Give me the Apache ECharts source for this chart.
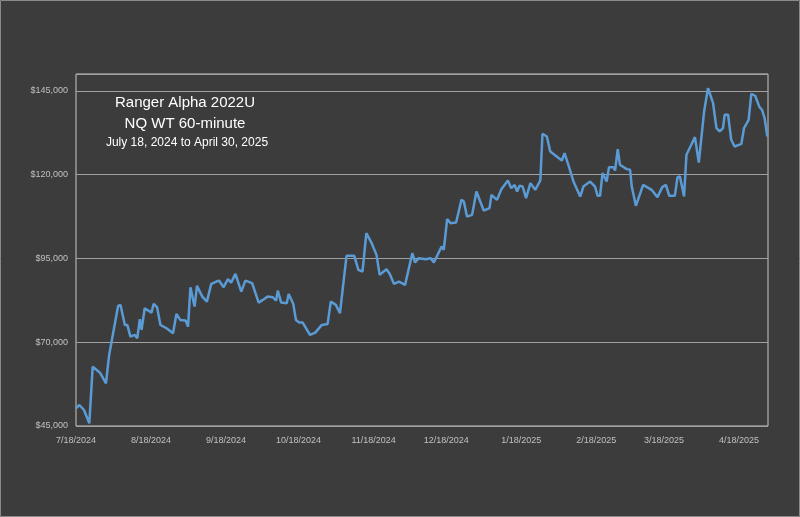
<!DOCTYPE html>
<html>
<head>
<meta charset="utf-8">
<script src="https://cdn.jsdelivr.net/npm/echarts@6/dist/echarts.min.js"></script>
<style>
  html, body { margin: 0; padding: 0; background: #3c3c3c; }
  #chart { width: 800px; height: 517px; }
</style>
</head>
<body>
<div id="chart"></div>
<script>
'use strict';

// days after 7/18/2024
var dayOffsets = [0, 1.4, 3.3, 5.5, 6.9, 9.9, 12.4, 13.7, 14.3, 17.4, 18.4, 20.2, 21.2, 22.5, 24.3, 25.3,
    26.4, 27.1, 28.4, 31.2, 32.1, 33.5, 34.9, 37.4, 40.1, 41.5, 43.1, 45.3, 46.3, 47.3, 49.0, 50.0,
    52.2, 54.1, 55.9, 58.0, 59.1, 61.0, 62.8, 64.1, 65.9, 68.3, 70.0, 72.8, 75.5, 77.2, 79.2, 81.3,
    82.7, 83.4, 84.8, 87.1, 87.9, 89.8, 90.9, 92.3, 93.7, 96.7, 98.9, 101.6, 104.0, 105.3, 107.4,
    109.1, 111.8, 115.0, 116.7, 118.4, 120.0, 122.2, 124.2, 125.5, 128.3, 129.7, 131.4, 133.5,
    136.0, 139.0, 140.1, 141.7, 144.5, 146.6, 147.9, 151.1, 152.0, 153.4, 154.8, 157.1, 159.3,
    160.3, 161.6, 163.7, 165.5, 168.5, 170.9, 171.7, 174.0, 175.8, 178.5, 179.9, 181.3, 182.3,
    183.3, 184.6, 186.0, 187.8, 188.5, 189.8, 191.9, 192.8, 194.6, 196.0, 200.8, 201.9, 203.5,
    205.6, 208.4, 209.7, 212.5, 214.5, 215.6, 216.6, 217.6, 219.3, 220.3, 222.1, 222.8, 223.9,
    224.8, 227.6, 229.0, 229.7, 230.4, 231.4, 234.4, 237.9, 240.3, 242.3, 243.8, 245.2, 247.5,
    248.6, 249.6, 251.3, 252.3, 254.3, 255.8, 257.4, 259.6, 261.2, 263.3, 264.7, 266.0, 267.4,
    268.1, 269.5, 270.8, 272.2, 275.0, 276.1, 278.0, 279.1, 280.7, 282.5, 283.5, 284.6, 285.7];

var equity = [50300, 51270, 49780, 45800, 62700, 60900, 57750, 66200, 65700, 80820, 81120, 75150, 75150, 71670, 72170, 71180,
    76850, 73660, 80130, 78830, 81420, 80430, 75150, 74160, 72670, 78430, 76640, 76440, 74640, 86400, 80620, 86790,
    83600, 82110, 87390, 88090, 88380, 86400, 88790, 87780, 90370, 85090, 88380, 87600, 81810, 82610, 83600, 83410,
    82400, 85390, 81810, 81620, 84400, 81420, 76640, 75840, 75840, 72170, 72850, 75150, 75450, 82110, 81120,
    78640, 95750, 95750, 91570, 91070, 102520, 99540, 96050, 90080, 91780, 90370, 87390, 88090,
    87090, 96550, 93790, 95060, 94770, 95060, 93790, 98530, 97540, 106700, 105510, 105700, 112460,
    111960, 107460, 107980, 114950, 109270, 109970, 113960, 112460, 115650, 118230, 115950, 116940, 114950,
    116640, 116440, 112970, 117450, 117640, 115450, 118230, 132160, 131370, 126880, 124200, 126400, 122910,
    117930, 113450, 116440, 117930, 116440, 113660, 113660, 120430, 117930, 122220, 122220, 121200, 127590,
    122910, 121630, 121420, 116440, 116640, 110670, 116940, 115450, 113270, 116250, 116940, 113660, 113660,
    119240, 119420, 113450, 125900, 128890, 131170, 123600, 138830, 145800, 141330, 133870, 132860, 133870,
    137840, 137840, 130370, 128370, 129180, 133870, 136340, 144100, 143510, 140130, 139340, 136860, 131370];

var tickDates = ['2024-07-18', '2024-08-18', '2024-09-18', '2024-10-18', '2024-11-18', '2024-12-18',
    '2025-01-18', '2025-02-18', '2025-03-18', '2025-04-18'];

var titleLines = ['Ranger Alpha 2022U', 'NQ WT 60-minute', 'July 18, 2024 to April 30, 2025'];

var DAY = 24 * 3600 * 1000;
var start = Date.UTC(2024, 6, 18);
var endDay = (Date.UTC(2025, 3, 30) - start) / DAY;
var data = [];
for (var i = 0; i < dayOffsets.length; i++) {
    data.push([dayOffsets[i], equity[i]]);
}
var ticks = tickDates.map(function(s) { return Math.round((Date.parse(s + 'T00:00:00Z') - start) / DAY); });

var chart = echarts.init(document.getElementById('chart'));
chart.setOption({
    backgroundColor: '#3c3c3c',
    animation: false,
    grid: {
        left: 76, right: 32, top: 74, bottom: 91,
        show: true, borderColor: '#c8c8c8', borderWidth: 1
    },
    xAxis: {
        type: 'value',
        min: 0,
        max: endDay,
        axisLine: { show: false },
        axisTick: { show: false },
        splitLine: { show: false },
        axisLabel: {
            customValues: ticks,
            color: '#c0c0c0', fontSize: 9, fontFamily: 'Liberation Sans', margin: 10,
            formatter: function(v) {
                var d = new Date(start + v * DAY);
                return (d.getUTCMonth() + 1) + '/' + d.getUTCDate() + '/' + d.getUTCFullYear();
            }
        }
    },
    yAxis: {
        type: 'value',
        min: 45000, max: 150000, interval: 25000,
        axisLine: { show: false },
        axisTick: { show: false },
        splitLine: { lineStyle: { color: '#a0a0a0', width: 1 } },
        axisLabel: {
            showMaxLabel: false,
            color: '#c0c0c0', fontSize: 9, fontFamily: 'Liberation Sans', margin: 8,
            formatter: function(v) { return '$' + v.toLocaleString('en-US'); }
        }
    },
    series: [{
        type: 'line',
        data: data,
        showSymbol: false,
        lineStyle: { color: '#5b9bd5', width: 2.5 },
        itemStyle: { color: '#5b9bd5' }
    }],
    graphic: [
        { type: 'rect', shape: { x: 0.5, y: 0.5, width: 799, height: 516 },
          style: { fill: 'none', stroke: '#8a8a8a', lineWidth: 1 } },
        { type: 'text', x: 185, y: 103, style: { text: titleLines[0], fill: '#ffffff',
          font: '15px "Liberation Sans"', align: 'center', verticalAlign: 'middle' } },
        { type: 'text', x: 185, y: 124, style: { text: titleLines[1], fill: '#ffffff',
          font: '15px "Liberation Sans"', align: 'center', verticalAlign: 'middle' } },
        { type: 'text', x: 187, y: 143, style: { text: titleLines[2], fill: '#ffffff',
          font: '12px "Liberation Sans"', align: 'center', verticalAlign: 'middle' } }
    ]
});
</script>
</body>
</html>
